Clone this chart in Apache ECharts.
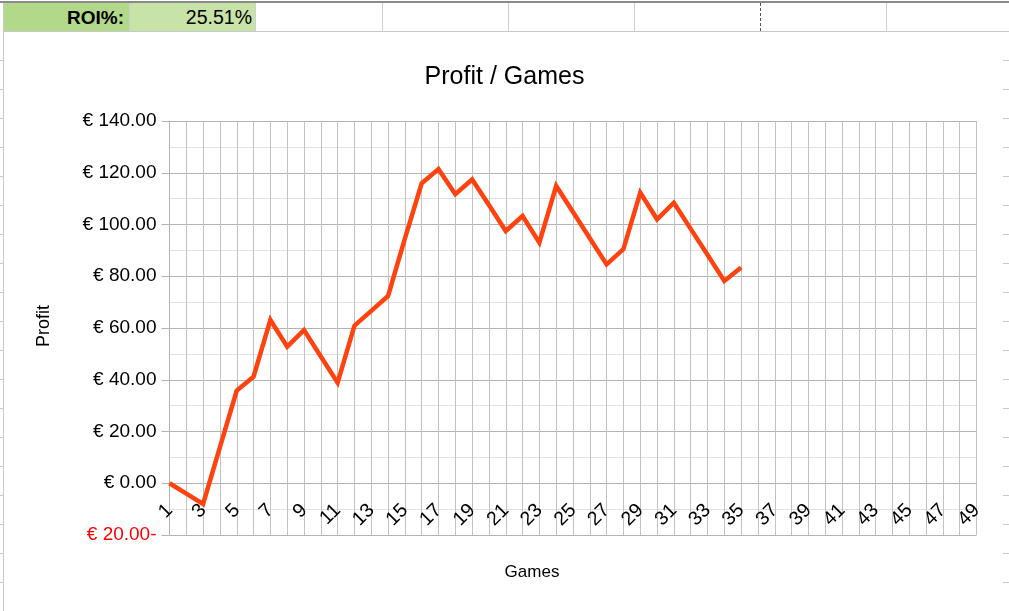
<!DOCTYPE html>
<html>
<head>
<meta charset="utf-8">
<script src="https://cdn.jsdelivr.net/npm/echarts@6/dist/echarts.min.js"></script>
<style>
  html, body { margin: 0; padding: 0; background: #ffffff; }
  #wrap { position: relative; width: 1009px; height: 611px; overflow: hidden; font-family: "Liberation Sans", Arial, sans-serif; }
  #chart { position: absolute; left: 0; top: 0; width: 1009px; height: 611px; }
  .d { position: absolute; }
</style>
</head>
<body>
<div id="wrap">
  <div id="decor"></div>
  <div id="chart"></div>
</div>
<script>
// ---- data ----
const games = [];
for (let i = 1; i <= 49; i++) games.push(String(i));
const profit = [0, -4, -8, 14, 35.8, 41.2, 63.1, 52.8, 59.2, 49, 38.9, 60.9, 66.6, 72.4, 94.5, 115.9, 121.4, 111.7, 117.4, 107.5, 97.5, 103.3, 93.0, 114.9, 104.8, 94.7, 84.6, 90.5, 112.3, 102.0, 108.4, 98.3, 88.3, 78.2, 83.4];
const yTicks = { min: -20, max: 140, step: 20 };
const titleText = 'Profit / Games';
const roiLabel = 'ROI%:';
const roiValue = '25.51%';

// ---- spreadsheet decoration (HTML) ----
const decor = document.getElementById('decor');
function box(l, t, w, h, style) {
  const e = document.createElement('div');
  e.className = 'd';
  e.style.left = l + 'px'; e.style.top = t + 'px';
  e.style.width = w + 'px'; e.style.height = h + 'px';
  Object.assign(e.style, style || {});
  decor.appendChild(e);
  return e;
}
box(0, 1, 1009, 2, { background: '#8a8a8a' });
box(4, 3, 125, 28, { background: '#b2d88a' });
box(130, 3, 125, 28, { background: '#c7e3a8' });
const c1 = box(4, 3, 120, 28, { font: 'bold 19px "Liberation Sans", Arial, sans-serif', textAlign: 'right', lineHeight: '29px', color: '#000' });
c1.textContent = roiLabel;
const c2 = box(130, 3, 122, 28, { font: '19.5px "Liberation Sans", Arial, sans-serif', textAlign: 'right', lineHeight: '29px', color: '#000' });
c2.textContent = roiValue;
[129, 255, 382, 508, 634, 886].forEach(x => box(x, 3, 1, 28, { background: '#cfcfcf' }));
box(760, 3, 0, 28, { borderLeft: '1px dashed #555' });
box(3, 31, 1006, 1, { background: '#c8c8c8' });
box(3, 3, 1, 608, { background: '#c8c8c8' });
for (let y = 60; y < 611; y += 29) {
  box(0, y, 3, 1, { background: '#c8c8c8' });
  box(1003, y, 6, 1, { background: '#c8c8c8' });
}

// ---- chart ----
const chart = echarts.init(document.getElementById('chart'), null, { renderer: 'canvas' });
const gridTop = 121, gridBottom = 76;
const plotH = 611 - gridTop - gridBottom;
const zeroOffset = -plotH * (0 - yTicks.min) / (yTicks.max - yTicks.min);
const option = {
  backgroundColor: 'transparent',
  animation: false,
  title: {
    text: titleText,
    left: 'center',
    top: 60,
    textStyle: { fontFamily: 'Liberation Sans', fontSize: 25, fontWeight: 'normal', color: '#000' }
  },
  grid: { left: 169.5, right: 32.5, top: gridTop, bottom: gridBottom, containLabel: false },
  xAxis: {
    type: 'category',
    data: games,
    boundaryGap: false,
    offset: zeroOffset,
    axisLine: { show: true, onZero: false, lineStyle: { color: '#b3b3b3', width: 1 } },
    axisTick: { show: false },
    axisLabel: {
      interval: 1,
      rotate: 45,
      margin: 24,
      fontFamily: 'Liberation Sans',
      fontSize: 19.5,
      color: '#000'
    },
    splitLine: { show: true, interval: 0, lineStyle: { color: '#c2c2c2', width: 1 } }
  },
  yAxis: {
    type: 'value',
    min: yTicks.min,
    max: yTicks.max,
    interval: yTicks.step,
    axisLine: { show: true, lineStyle: { color: '#b3b3b3', width: 1 } },
    axisTick: { show: true, length: 8, lineStyle: { color: '#b3b3b3' } },
    axisLabel: {
      margin: 13,
      fontFamily: 'Liberation Sans',
      fontSize: 19,
      color: '#000',
      formatter: function (v) {
        if (v < 0) return '{neg|€ ' + Math.abs(v).toFixed(2) + '-}';
        return '€ ' + v.toFixed(2);
      },
      rich: { neg: { color: '#ff0000', fontFamily: 'Liberation Sans', fontSize: 19 } }
    },
    splitLine: { show: true, lineStyle: { color: '#b3b3b3', width: 1 } },
    minorTick: { show: false, splitNumber: 2 },
    minorSplitLine: { show: true, lineStyle: { color: '#e0e0e0', width: 1 } }
  },
  graphic: [
    {
      type: 'text', x: 44, y: 326, rotation: Math.PI / 2,
      style: { text: 'Profit', fontFamily: 'Liberation Sans', fontSize: 18, fill: '#000', textAlign: 'center', textVerticalAlign: 'middle' }
    },
    {
      type: 'text', x: 532, y: 572,
      style: { text: 'Games', fontFamily: 'Liberation Sans', fontSize: 17, fill: '#000', textAlign: 'center', textVerticalAlign: 'middle' }
    }
  ],
  series: [{
    type: 'line',
    data: profit,
    symbol: 'none',
    lineStyle: { color: '#ff420e', width: 4.5, join: 'miter' },
    itemStyle: { color: '#ff420e' }
  }]
};
chart.setOption(option);
</script>
</body>
</html>
